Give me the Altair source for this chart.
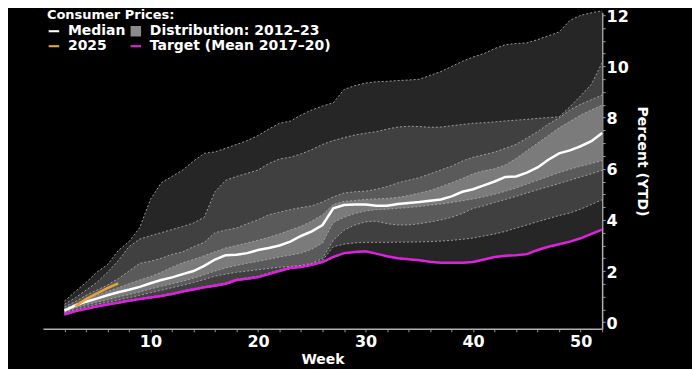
import altair as alt
import pandas as pd

# ---------------- data ----------------
weeks = list(range(2, 53))

dist_max = [0.82, 1.2, 1.55, 1.95, 2.25, 2.8, 3.15, 3.7, 4.8, 5.45, 5.7, 5.95, 6.3, 6.6, 6.66, 6.8, 6.95,
            7.1, 7.3, 7.55, 7.78, 7.86, 8.1, 8.3, 8.45, 8.58, 9.1, 9.25, 9.35, 9.4, 9.42, 9.45, 9.47,
            9.5, 9.65, 9.8, 10.0, 10.2, 10.37, 10.5, 10.7, 10.85, 10.9, 10.92, 11.05, 11.2, 11.35,
            11.8, 12.0, 12.1, 12.18]
dist_hi2 = [0.7, 0.95, 1.25, 1.55, 1.95, 2.4, 2.95, 3.25, 3.38, 3.5, 3.62, 3.74, 3.88, 4.1, 5.1, 5.55,
            5.7, 5.82, 5.95, 6.2, 6.38, 6.45, 6.58, 6.75, 6.95, 7.1, 7.22, 7.32, 7.39, 7.45, 7.55,
            7.63, 7.66, 7.65, 7.62, 7.63, 7.68, 7.73, 7.78, 7.8, 7.83, 7.87, 7.9, 7.93, 7.97, 8.0,
            8.03, 8.42, 8.85, 9.3, 10.15]
dist_hi3 = [0.6, 0.8, 1.05, 1.25, 1.45, 1.7, 2.0, 2.3, 2.38, 2.5, 2.65, 2.75, 2.95, 3.12, 3.5, 3.6,
            3.68, 3.85, 4.0, 4.2, 4.3, 4.4, 4.48, 4.55, 4.7, 4.9, 5.05, 5.1, 5.12, 5.2, 5.3, 5.45,
            5.55, 5.65, 5.8, 5.95, 6.1, 6.3, 6.45, 6.55, 6.65, 6.8, 6.95, 7.2, 7.45, 7.75, 7.98,
            8.3, 8.52, 8.7, 8.88]
dist_hi4 = [0.52, 0.7, 0.9, 1.05, 1.2, 1.35, 1.5, 1.65, 1.78, 1.95, 2.15, 2.32, 2.45, 2.6, 2.75, 2.9,
            3.0, 3.1, 3.2, 3.32, 3.45, 3.6, 3.75, 3.95, 4.2, 4.6, 4.72, 4.76, 4.8, 4.82, 4.84, 4.88,
            4.95, 5.05, 5.15, 5.3, 5.45, 5.62, 5.8, 5.92, 6.0, 6.15, 6.4, 6.7, 7.0, 7.3, 7.6, 7.85,
            8.1, 8.3, 8.49]
median = [0.45, 0.65, 0.8, 0.92, 1.05, 1.17, 1.27, 1.38, 1.52, 1.65, 1.75, 1.88, 2.0, 2.2, 2.45, 2.62,
          2.64, 2.7, 2.82, 2.9, 3.0, 3.15, 3.37, 3.55, 3.8, 4.45, 4.58, 4.6, 4.6, 4.55, 4.55, 4.62,
          4.66, 4.7, 4.75, 4.8, 4.92, 5.1, 5.2, 5.35, 5.5, 5.68, 5.7, 5.85, 6.05, 6.35, 6.6, 6.72,
          6.88, 7.08, 7.4]
dist_lo4 = [0.4, 0.55, 0.68, 0.78, 0.88, 0.98, 1.08, 1.18, 1.3, 1.4, 1.5, 1.6, 1.72, 1.85, 2.0, 2.12,
            2.22, 2.3, 2.38, 2.46, 2.55, 2.62, 2.7, 2.85, 3.1, 3.9, 4.1, 4.25, 4.35, 4.4, 4.42, 4.45,
            4.48, 4.52, 4.58, 4.62, 4.68, 4.75, 4.82, 4.9, 5.0, 5.12, 5.25, 5.4, 5.55, 5.7, 5.85,
            5.98, 6.1, 6.2, 6.32]
dist_lo3 = [0.35, 0.48, 0.6, 0.7, 0.78, 0.87, 0.96, 1.05, 1.15, 1.25, 1.35, 1.45, 1.55, 1.67, 1.8,
            1.88, 1.95, 2.0, 2.05, 2.1, 2.15, 2.18, 2.22, 2.3, 2.5, 3.2, 3.6, 3.8, 3.92, 3.95, 3.85,
            3.8, 3.8, 3.85, 3.92, 4.0, 4.1, 4.25, 4.45, 4.55, 4.68, 4.8, 4.92, 5.05, 5.18, 5.3, 5.42,
            5.55, 5.68, 5.8, 5.94]
dist_lo2 = [0.32, 0.43, 0.53, 0.62, 0.7, 0.78, 0.86, 0.93, 0.99, 1.05, 1.13, 1.23, 1.31, 1.39, 1.46,
            1.54, 1.68, 1.74, 1.8, 1.92, 2.04, 2.15, 2.2, 2.28, 2.42, 2.95, 3.05, 3.1, 3.12, 3.12,
            3.12, 3.13, 3.13, 3.14, 3.15, 3.17, 3.2, 3.24, 3.29, 3.37, 3.45, 3.55, 3.68, 3.8, 3.93,
            4.05, 4.17, 4.27, 4.42, 4.6, 4.79]
dist_min = [0.29, 0.4, 0.5, 0.59, 0.67, 0.74, 0.82, 0.88, 0.94, 1.0, 1.08, 1.18, 1.26, 1.34, 1.4,
            1.48, 1.62, 1.68, 1.74, 1.86, 1.98, 2.1, 2.15, 2.22, 2.33, 2.52, 2.68, 2.72, 2.76, 2.67,
            2.57, 2.49, 2.45, 2.41, 2.35, 2.31, 2.31, 2.31, 2.34, 2.44, 2.54, 2.59, 2.61, 2.65, 2.81,
            2.94, 3.04, 3.14, 3.27, 3.44, 3.61]
target = [0.3, 0.42, 0.52, 0.61, 0.69, 0.76, 0.84, 0.9, 0.96, 1.02, 1.1, 1.2, 1.28, 1.36, 1.42, 1.5,
          1.65, 1.7, 1.76, 1.88, 2.0, 2.12, 2.16, 2.24, 2.35, 2.55, 2.7, 2.74, 2.77, 2.68, 2.58, 2.5,
          2.46, 2.42, 2.36, 2.32, 2.32, 2.32, 2.35, 2.45, 2.55, 2.6, 2.62, 2.66, 2.82, 2.95, 3.05,
          3.15, 3.28, 3.45, 3.62]

weeks_2025 = [3, 4, 5, 6, 7]
values_2025 = [0.62, 0.9, 1.12, 1.33, 1.52]

x_ticks = list(range(2, 53, 2))
y_ticks = [i / 2 for i in range(0, 25)]

# legend entries (ordered so the 2-column grid reads like the reference)
legend_labels = ["Median", "2025", "Distribution: 2012\u201323", "Target (Mean 2017\u201320)"]
legend_colors = ["#ffffff", "#e8a33d", "#8c8c8c", "#e020e0"]
DASH = "M-1,-0.2L1,-0.2L1,0.2L-1,0.2Z"
legend_shapes = [DASH, DASH, "square", DASH]

band_colors = ["#262626", "#404040", "#5a5a5a", "#7b7b7b"]

# ---------------- frames ----------------
df = pd.DataFrame({
    "week": weeks, "b1": dist_max, "b2": dist_hi2, "b3": dist_hi3, "b4": dist_hi4,
    "median": median, "b5": dist_lo4, "b6": dist_lo3, "b7": dist_lo2, "b8": dist_min,
    "target": target,
})
df25 = pd.DataFrame({"week": weeks_2025, "v": values_2025})
leg_df = pd.DataFrame({"series": legend_labels})

FONT = "DejaVu Sans"
xscale = alt.Scale(domain=[0, 52], nice=False, zero=False)
yscale = alt.Scale(domain=[-0.26, 12.12], nice=False, zero=False)

X_AXIS = alt.Axis(values=x_ticks, labelExpr="datum.value % 10 == 0 ? datum.label : ''",
                  grid=False, domainColor="#b0b0b0", domainWidth=1.5, tickColor="#9a9a9a",
                  tickSize=3, labelColor="white", labelFont=FONT, labelFontSize=16,
                  labelFontWeight="bold", labelPadding=2, labelOverlap=False, labelFlush=False,
                  titleColor="white", titleFont=FONT, titleFontSize=14, titleFontWeight="bold",
                  titlePadding=3)
Y_AXIS = alt.Axis(values=y_ticks, orient="right",
                  labelExpr="datum.value % 2 == 0 ? format(datum.value, 'd') : ''",
                  grid=False, domainColor="#b0b0b0", domainWidth=1.5, tickColor="#9a9a9a",
                  tickSize=3, labelColor="white", labelFont=FONT, labelFontSize=16,
                  labelFontWeight="bold", labelPadding=1, labelOffset=1, labelOverlap=False,
                  labelFlush=False,
                  titleColor="white", titleFont=FONT, titleFontSize=14, titleFontWeight="bold",
                  titlePadding=6, titleY=149)


def xenc(field="week"):
    return alt.X(f"{field}:Q", scale=xscale, axis=X_AXIS, title="Week")


def yenc(field):
    return alt.Y(f"{field}:Q", scale=yscale, axis=Y_AXIS, title="Percent (YTD)")


base = alt.Chart(df)

bands = []
for (lo, hi), col in zip([("b8", "b1"), ("b7", "b2"), ("b6", "b3"), ("b5", "b4")], band_colors):
    bands.append(base.mark_area(color=col, opacity=1).encode(
        x=xenc(), y=yenc(lo), y2=alt.Y2(f"{hi}:Q")))

dashes = base.transform_fold(
    ["b1", "b2", "b3", "b4", "b5", "b6", "b7", "b8"], as_=["bound", "val"]
).mark_line(color="#a8a8a8", strokeWidth=0.9, strokeDash=[2, 2]).encode(
    x=xenc(), y=yenc("val"), detail="bound:N")

target_line = base.mark_line(color="#e020e0", strokeWidth=2.5).encode(x=xenc(), y=yenc("target"))
median_line = base.mark_line(color="#ffffff", strokeWidth=2.5).encode(x=xenc(), y=yenc("median"))
line25 = alt.Chart(df25).mark_line(color="#e8a33d", strokeWidth=2.5).encode(x=xenc(), y=yenc("v"))

LEG = alt.Legend(title="Consumer Prices:", orient="none", legendX=4, legendY=-3, columns=2)

legend_layer = alt.Chart(leg_df).mark_point(filled=True, opacity=0).encode(
    x=alt.value(0), y=alt.value(0),
    color=alt.Color("series:N", scale=alt.Scale(domain=legend_labels, range=legend_colors), legend=LEG),
    shape=alt.Shape("series:N", scale=alt.Scale(domain=legend_labels, range=legend_shapes), legend=LEG),
)

chart = alt.layer(*bands, dashes, target_line, median_line, line25, legend_layer).properties(
    width=560, height=317,
    padding={"left": 35, "top": 4, "right": 90, "bottom": 40},
    autosize="none",
).configure(background="black").configure_view(stroke=None).configure_legend(
    symbolSize=110, symbolOpacity=1, symbolStrokeWidth=0,
    labelColor="white", labelFont=FONT, labelFontSize=14, labelFontWeight="bold", labelLimit=400,
    titleColor="white", titleFont=FONT, titleFontSize=13, titleFontWeight="bold", titleLimit=400,
    columnPadding=3, rowPadding=1, titlePadding=2, labelOffset=7, padding=0,
)

chart.save("out.html", embed_options={"renderer": "svg", "actions": False})
